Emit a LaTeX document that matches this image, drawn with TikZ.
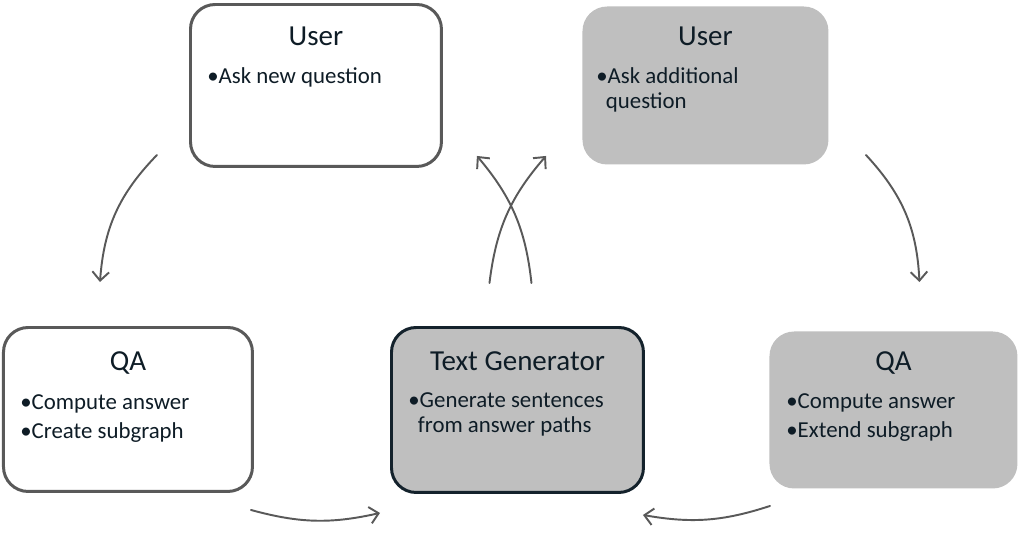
\documentclass[tikz,border=0pt]{standalone}
\usepackage{fontspec}
\setmainfont{Carlito}
\usetikzlibrary{positioning, arrows.meta}
\definecolor{ink}{HTML}{0E1C26}
\definecolor{edge}{HTML}{595959}
\definecolor{shade}{HTML}{BFBFBF}
\definecolor{navy}{HTML}{14222C}
\tikzset{
  box/.style={anchor=north west, inner sep=0pt, rounded corners=14pt,
    draw=edge, line width=1.7pt, fill=white},
  greybox/.style={box, draw=none, fill=shade},
  genbox/.style={box, draw=navy, fill=shade},
  title/.style={anchor=base, inner sep=0pt, text=ink,
    font=\fontsize{16.5}{20}\selectfont},
  bullets/.style={anchor=base west, inner sep=0pt, text=ink, align=left,
    font=\fontsize{13}{14.2}\selectfont},
  flow/.style={draw=edge, line width=1.1pt, line cap=round,
    -{Straight Barb[length=5pt, width=9.5pt, line width=1.1pt]}}
}

\begin{document}
\begin{tikzpicture}[x=0.02cm, y=-0.02cm]
\useasboundingbox (0,0) rectangle (1019,545);
% the five steps
\node[box, minimum width=5.02cm, minimum height=3.24cm] (user1) at (189,3) {};
\node[greybox, minimum width=4.92cm, minimum height=3.16cm] (user2) at (581,5) {};
\node[box, minimum width=4.98cm, minimum height=3.28cm] (qa1) at (2,326) {};
\node[genbox, minimum width=5.04cm, minimum height=3.30cm] (gen) at (390,326) {};
\node[greybox, minimum width=4.96cm, minimum height=3.14cm] (qa2) at (768,330) {};

\node[title] at ([shift={(0,42)}]user1.north) {User};
\node[title] at ([shift={(0,40)}]user2.north) {User};
\node[title] at ([shift={(0,44)}]qa1.north) {QA};
\node[title] at ([shift={(0,44)}]gen.north) {Text Generator};
\node[title] at ([shift={(0,40)}]qa2.north) {QA};

% base of a two-line list is its last line
\node[bullets] at ([shift={(18,80)}]user1.north west) {•Ask new question};
\node[bullets] at ([shift={(15,103)}]user2.north west) {•Ask additional\\\hspace*{0.42em}question};
\node[bullets] at ([shift={(18,112)}]qa1.north west) {•Compute answer\\[2.3pt]•Create subgraph};
\node[bullets] at ([shift={(18,106)}]gen.north west) {•Generate sentences\\\hspace*{0.42em}from answer paths};
\node[bullets] at ([shift={(18,107)}]qa2.north west) {•Compute answer\\[2.3pt]•Extend subgraph};

% connectors
\draw[flow] ([shift={(-32,-13)}]user1.south west) to[bend right=20] ([shift={(-28,-44)}]qa1.north);
\draw[flow] ([shift={(36,-11)}]user2.south east) to[bend left=20] ([shift={(26,-48)}]qa2.north);
\draw[flow] ([shift={(14,-43)}]gen.north) to[bend right=17] ([shift={(34,-12)}]user1.south east);
\draw[flow] ([shift={(-28,-43)}]gen.north) to[bend left=17] ([shift={(-35,-10)}]user2.south west);
\draw[flow] ([shift={(-3,17)}]qa1.south east) to[bend right=14] ([shift={(-10,19)}]gen.south west);
\draw[flow] ([shift={(2,16)}]qa2.south west) to[bend left=14] ([shift={(-2,21)}]gen.south east);
\end{tikzpicture}
\end{document}
